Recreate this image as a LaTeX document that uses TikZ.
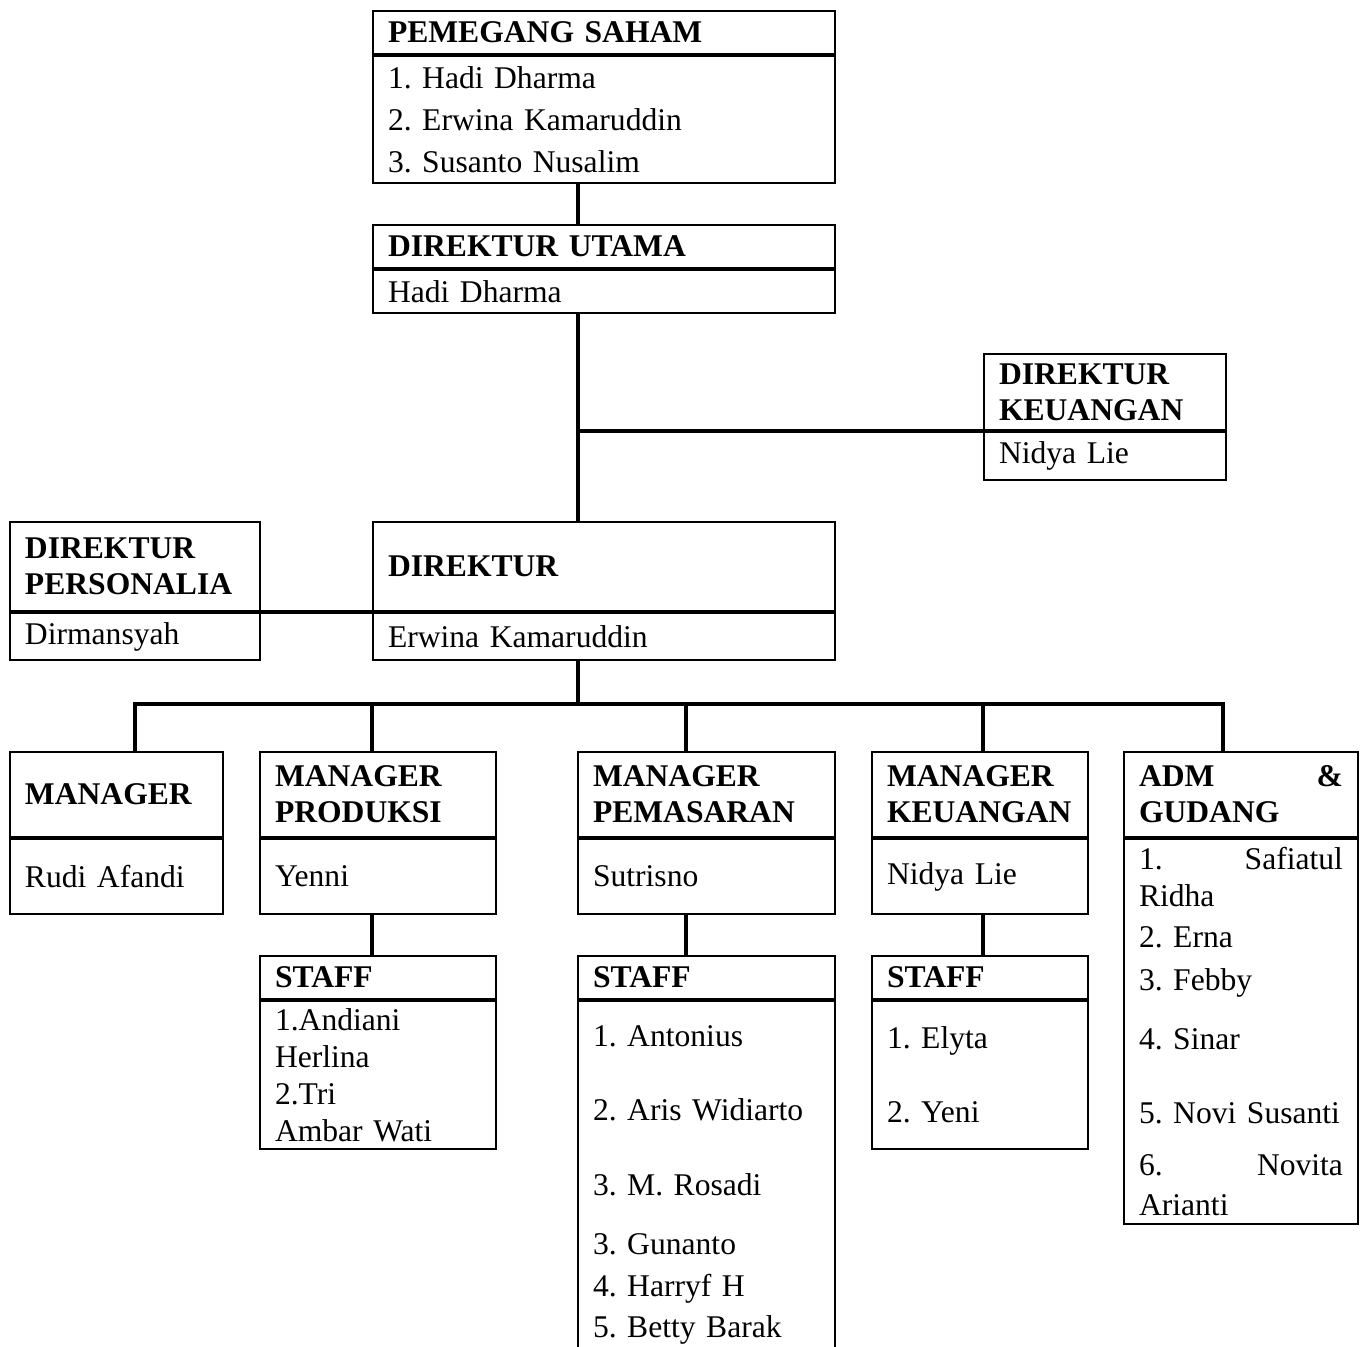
\documentclass[tikz,border=0pt]{standalone}
\usepackage{fontspec}
\setmainfont{Liberation Serif}
\usepackage{tikz}
\usetikzlibrary{positioning,calc}
\frenchspacing
\newcommand{\hurufisi}{\fontsize{15.8}{18}\selectfont\hyphenpenalty=10000\relax}

\begin{document}
\begin{tikzpicture}[
    x=0.5pt, y=-0.5pt,
    kepala/.style={draw, line width=1pt, inner xsep=7.5pt, inner ysep=0pt, align=left, text width=#1, font=\hurufisi\bfseries},
    isi/.style={draw, line width=1pt, inner xsep=7.5pt, inner ysep=0pt, align=left, text width=#1, font=\hurufisi},
    garis/.style={line width=2pt}
]
    \useasboundingbox (0,0) rectangle (1360,1347);

    % ---- Pemegang saham ----
    \node[kepala=216pt, minimum height=21.5pt, anchor=north west] (saham) at (372,10) {PEMEGANG SAHAM};
    \node[isi=216pt, minimum height=63.5pt, below=0pt of saham] (saham-isi) {1. Hadi Dharma\\[3pt] 2. Erwina Kamaruddin\\[3pt] 3. Susanto Nusalim};

    % ---- Direktur utama ----
    \node[kepala=216pt, minimum height=21.5pt, anchor=north west] (utama) at (372,224) {DIREKTUR UTAMA};
    \node[isi=216pt, minimum height=21.5pt, below=0pt of utama] (utama-isi) {Hadi Dharma};

    % ---- Direktur keuangan ----
    \node[kepala=106pt, minimum height=38pt, anchor=north west] (dirkeu) at (983,353) {DIREKTUR\\ KEUANGAN};
    \node[isi=106pt, minimum height=24pt, below=0pt of dirkeu] (dirkeu-isi) {Nidya Lie};

    % ---- Direktur ----
    \node[kepala=216pt, minimum height=44.5pt, anchor=north west] (direktur) at (372,521) {DIREKTUR};
    \node[isi=216pt, minimum height=23.5pt, below=0pt of direktur] (direktur-isi) {Erwina Kamaruddin};

    % ---- Direktur personalia ----
    \node[kepala=110pt, minimum height=44.5pt, anchor=north west] (personalia) at (9,521) {DIREKTUR\\ PERSONALIA};
    \node[isi=110pt, minimum height=23.5pt, below=0pt of personalia] (personalia-isi) {Dirmansyah};

    % ---- Manager ----
    \node[kepala=91.5pt, minimum height=42.5pt, anchor=north west] (mgr) at (9,751) {MANAGER};
    \node[isi=91.5pt, minimum height=37.5pt, below=0pt of mgr] (mgr-isi) {Rudi Afandi};

    \node[kepala=103pt, minimum height=42.5pt, anchor=north west] (mgrprod) at (259,751) {MANAGER\\ PRODUKSI};
    \node[isi=103pt, minimum height=37.5pt, below=0pt of mgrprod] (mgrprod-isi) {Yenni};

    \node[kepala=113.5pt, minimum height=42.5pt, anchor=north west] (mgrpsr) at (577,751) {MANAGER\\ PEMASARAN};
    \node[isi=113.5pt, minimum height=37.5pt, below=0pt of mgrpsr] (mgrpsr-isi) {Sutrisno};

    \node[kepala=93pt, minimum height=42.5pt, anchor=north west] (mgrkeu) at (871,751) {MANAGER\\ KEUANGAN};
    \node[isi=93pt, minimum height=37.5pt, below=0pt of mgrkeu] (mgrkeu-isi) {Nidya Lie\vphantom{S}};

    \node[kepala=102pt, minimum height=42.5pt, anchor=north west] (adm) at (1123,751) {ADM \hfill \&\\ GUDANG};
    \node[isi=102pt, minimum height=192.5pt, below=0pt of adm] (adm-isi) {1. \hfill Safiatul\\[0.5pt] Ridha\\[2.5pt] 2. Erna\\[3.5pt] 3. Febby\\[11.5pt] 4. Sinar\\[19pt] 5. Novi Susanti\\[8pt] 6. \hfill Novita\\[2pt] Arianti};

    % ---- Staff ----
    \node[kepala=103pt, minimum height=21.5pt, anchor=north west] (stafprod) at (259,955) {STAFF};
    \node[isi=103pt, minimum height=74pt, below=0pt of stafprod] (stafprod-isi) {1.Andiani\\[0.5pt] Herlina\\[0.5pt] 2.Tri\\[0.5pt] Ambar Wati};

    \node[kepala=113.5pt, minimum height=21.5pt, anchor=north west] (stafpsr) at (577,955) {STAFF};
    \node[isi=113.5pt, minimum height=183.5pt, below=0pt of stafpsr] (stafpsr-isi) {1. Antonius\\[19pt] 2. Aris Widiarto\\[19.5pt] 3. M. Rosadi\\[11.5pt] 3. Gunanto\\[3pt] 4. Harryf H\\[2.5pt] 5. Betty Barak};

    \node[kepala=93pt, minimum height=21.5pt, anchor=north west] (stafkeu) at (871,955) {STAFF};
    \node[isi=93pt, minimum height=74pt, below=0pt of stafkeu] (stafkeu-isi) {1. Elyta\\[19pt] 2. Yeni};

    % ---- Garis ----
    \coordinate (poros) at (578,704);
    \draw[garis] (saham-isi.south -| poros) -- (utama.north -| poros);
    \draw[garis] (utama-isi.south -| poros) -- (direktur.north -| poros);
    \draw[garis] (dirkeu.south west) -- (dirkeu.south west -| poros);
    \draw[garis] (personalia.south east) -- (direktur.south west);
    \draw[garis] (direktur-isi.south -| poros) -- (poros);

    \foreach \x/\m in {135/mgr, 372/mgrprod, 686/mgrpsr, 983/mgrkeu, 1223/adm}
        \coordinate (t-\m) at (\x,704);
    \draw[garis] (t-mgr |- mgr.north) -- (t-mgr) -- (t-adm) -- (t-adm |- adm.north);
    \foreach \m in {mgrprod, mgrpsr, mgrkeu}
        \draw[garis] (t-\m) -- (t-\m |- \m.north);
    \foreach \m/\s in {mgrprod/stafprod, mgrpsr/stafpsr, mgrkeu/stafkeu}
        \draw[garis] (t-\m |- \m-isi.south) -- (t-\m |- \s.north);
\end{tikzpicture}
\end{document}
